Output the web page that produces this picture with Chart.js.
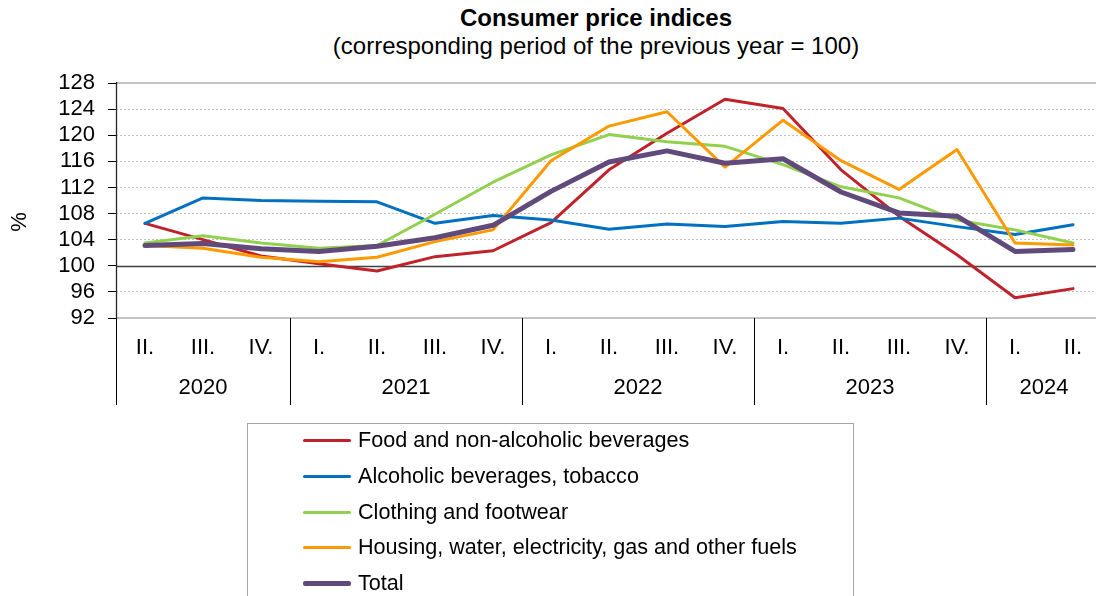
<!DOCTYPE html>
<html>
<head>
<meta charset="utf-8">
<script src="https://cdn.jsdelivr.net/npm/chart.js"></script>
<style>
    html, body { margin: 0; padding: 0; background: #fff; overflow: hidden; }
    #wrap { position: relative; width: 1110px; height: 596px; font-family: Arial, "Liberation Sans", sans-serif; }
    #chartBox { position: absolute; left: 0; top: 0; width: 1110px; height: 596px; }
    .title { position: absolute; left: 0; width: 1192px; text-align: center; color: #000; }
    #legend { position: absolute; left: 247px; top: 423px; width: 607px; height: 200px; border: 1px solid #a6a6a6; box-sizing: border-box; }
    .item { position: absolute; left: 0; height: 36px; width: 600px; }
    .item .swatch { position: absolute; left: 55px; width: 48px; top: 16px; border-radius: 2px; }
    .item .label { position: absolute; left: 110px; top: 0; line-height: 32px; font-size: 21.6px; color: #000; white-space: nowrap; }
</style>
</head>
<body>
<div id="wrap">
    <div class="title" style="top: 4px; font-size: 24px; font-weight: bold;">Consumer price indices</div>
    <div class="title" style="top: 32px; font-size: 24px;">(corresponding period of the previous year = 100)</div>
    <div id="chartBox"><canvas id="cpi"></canvas></div>
    <div id="legend"></div>
</div>
<script>
(function() {
    'use strict';

    // Quarters, grouped under years on the x axis
    const quarters = ['II.', 'III.', 'IV.', 'I.', 'II.', 'III.', 'IV.', 'I.', 'II.', 'III.', 'IV.', 'I.', 'II.', 'III.', 'IV.', 'I.', 'II.'];
    const years = ['2020', '2021', '2022', '2023', '2024'];
    const yearSpans = [3, 4, 4, 4, 2];

    const yTicks = [92, 96, 100, 104, 108, 112, 116, 120, 124, 128];

    const seriesNames = [
        'Food and non-alcoholic beverages',
        'Alcoholic beverages, tobacco',
        'Clothing and footwear',
        'Housing, water, electricity, gas and other fuels',
        'Total'
    ];
    const seriesColors = ['#c0222b', '#0070c0', '#92d050', '#ff9900', '#604a7b'];

    const food = [106.5, 104.0, 101.5, 100.3, 99.2, 101.4, 102.3, 106.6, 114.7, 120.3, 125.5, 124.1, 114.7, 107.6, 101.7, 95.1, 96.5];
    const alcohol = [106.5, 110.4, 110.0, 109.9, 109.8, 106.5, 107.7, 107.0, 105.6, 106.4, 106.0, 106.8, 106.5, 107.3, 106.0, 104.8, 106.3];
    const clothing = [103.5, 104.6, 103.5, 102.7, 103.1, 107.9, 112.8, 117.0, 120.1, 119.0, 118.3, 115.5, 112.1, 110.4, 107.0, 105.5, 103.5];
    const housing = [103.1, 102.7, 101.3, 100.6, 101.3, 103.7, 105.5, 116.1, 121.4, 123.6, 115.1, 122.3, 116.1, 111.7, 117.8, 103.5, 103.2];
    const total = [103.1, 103.4, 102.6, 102.2, 103.0, 104.3, 106.2, 111.4, 115.9, 117.6, 115.7, 116.4, 111.3, 108.1, 107.6, 102.2, 102.5];

    const seriesData = [food, alcohol, clothing, housing, total];
    const lineWidths = [3, 3, 3, 3, 5];

    const FONT = 'Arial, "Liberation Sans", sans-serif';

    // legend (HTML)
    const legend = document.getElementById('legend');
    seriesNames.forEach((name, i) => {
        const row = document.createElement('div');
        row.className = 'item';
        row.style.top = (i * 35.8) + 'px';
        row.innerHTML = `
            <span class="swatch" style="height:${lineWidths[i] === 5 ? 5 : 3}px; background:${seriesColors[i]}; top:${lineWidths[i] === 5 ? 14 : 15}px"></span>
            <span class="label">${name}</span>`;
        legend.appendChild(row);
    });

    // extra drawing: axis frame lines, x-axis grouped labels, y title
    const framePlugin = {
        id: 'framePlugin',
        beforeDatasetsDraw(chart) {
            const ctx = chart.ctx;
            const area = chart.chartArea;
            const y = chart.scales.y;
            ctx.save();
            // top / bottom plot border
            ctx.strokeStyle = '#c4c4c4';
            ctx.lineWidth = 2;
            [128, 92].forEach(v => {
                const py = Math.round(y.getPixelForValue(v));
                ctx.beginPath();
                ctx.moveTo(area.left, py);
                ctx.lineTo(area.right, py);
                ctx.stroke();
            });
            // 100 base line
            const p100 = Math.round(y.getPixelForValue(100)) + 0.5;
            ctx.strokeStyle = '#404040';
            ctx.lineWidth = 1.3;
            ctx.beginPath();
            ctx.moveTo(area.left, p100);
            ctx.lineTo(area.right, p100);
            ctx.stroke();
            // y axis line
            const ax = Math.round(area.left) + 0.5;
            ctx.strokeStyle = '#262626';
            ctx.lineWidth = 1.3;
            ctx.beginPath();
            ctx.moveTo(ax, area.top - 1);
            ctx.lineTo(ax, area.bottom + 1);
            ctx.stroke();
            ctx.restore();
        },
        afterDraw(chart) {
            const ctx = chart.ctx;
            const area = chart.chartArea;
            const x = chart.scales.x;
            const half = (x.getPixelForValue(1) - x.getPixelForValue(0)) / 2;
            ctx.save();
            ctx.fillStyle = '#000';
            ctx.font = '22px ' + FONT;
            ctx.textAlign = 'center';
            ctx.textBaseline = 'middle';
            quarters.forEach((q, i) => {
                ctx.fillText(q, x.getPixelForValue(i), 348);
            });
            // year groups and dividers
            ctx.strokeStyle = '#000';
            ctx.lineWidth = 1;
            let start = 0;
            const divider = (px) => {
                const xx = Math.round(px) + 0.5;
                ctx.beginPath();
                ctx.moveTo(xx, area.bottom);
                ctx.lineTo(xx, 405);
                ctx.stroke();
            };
            divider(area.left);
            years.forEach((yr, k) => {
                const end = start + yearSpans[k] - 1;
                const left = x.getPixelForValue(start) - half;
                const right = x.getPixelForValue(end) + half;
                ctx.fillText(yr, (left + right) / 2, 388);
                if (k < years.length - 1) divider(right);
                start = end + 1;
            });
            // y axis title
            ctx.translate(20, 222);
            ctx.rotate(-Math.PI / 2);
            ctx.fillText('%', 0, 0);
            ctx.restore();
        }
    };

    const ctx = document.getElementById('cpi').getContext('2d');
    new Chart(ctx, {
        type: 'line',
        data: {
            labels: quarters.map((q, i) => q + i),
            datasets: seriesNames.map((name, i) => ({
                label: name,
                data: seriesData[i],
                borderColor: seriesColors[i],
                backgroundColor: seriesColors[i],
                borderWidth: lineWidths[i],
                pointRadius: 0,
                tension: 0,
                borderJoinStyle: 'round',
                borderCapStyle: 'round',
                order: seriesNames.length - 1 - i
            }))
        },
        options: {
            responsive: true,
            maintainAspectRatio: false,
            animation: false,
            events: [],
            layout: { padding: { left: 0, right: 8, top: 83, bottom: 278 } },
            plugins: {
                legend: { display: false },
                title: { display: false },
                tooltip: { enabled: false }
            },
            scales: {
                x: {
                    type: 'category',
                    offset: true,
                    display: false
                },
                y: {
                    min: 92,
                    max: 128,
                    afterBuildTicks(scale) {
                        scale.ticks = yTicks.map(v => ({ value: v }));
                    },
                    afterFit(scale) {
                        scale.width = 116;
                    },
                    ticks: {
                        color: '#000',
                        padding: 13,
                        autoSkip: false,
                        font: { size: 22, family: FONT }
                    },
                    grid: {
                        color: (c) => {
                            const v = c.tick && c.tick.value;
                            return (v === 92 || v === 100 || v === 128) ? 'rgba(0,0,0,0)' : '#c0c0c0';
                        },
                        lineWidth: 1,
                        tickColor: '#000',
                        tickLength: 8,
                        tickWidth: 1
                    },
                    border: {
                        display: false,
                        dash: [2, 2]
                    }
                }
            }
        },
        plugins: [framePlugin]
    });
})();
</script>
</body>
</html>
